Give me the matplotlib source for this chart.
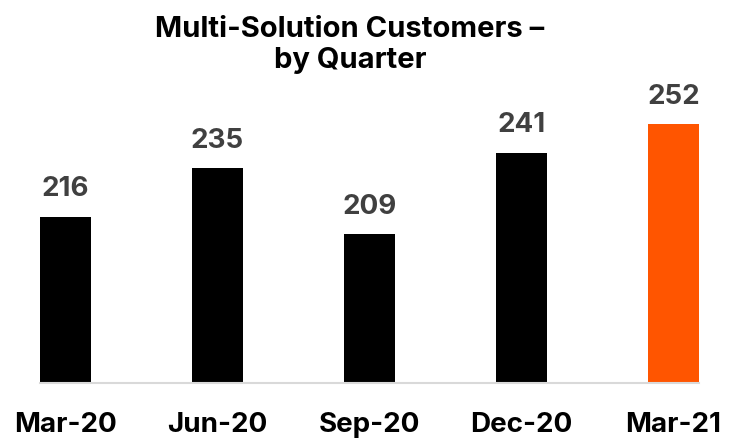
"""
Multi-Solution Customers by quarter bar chart
"""

import matplotlib.pyplot as plt

plt.rcParams["font.family"] = ["Inter", "DejaVu Sans"]

# 資料
quarters = ["Mar-20", "Jun-20", "Sep-20", "Dec-20", "Mar-21"]
customers = [216, 235, 209, 241, 252]
bar_colors = ["#000000", "#000000", "#000000", "#000000", "#FF5500"]

bar_width = 0.336

fig = plt.figure(figsize=(7.36, 4.39), dpi=100)
ax = fig.add_axes([40 / 736, 1 - 384 / 439, 659 / 736, 0.70])

bars = ax.bar(range(len(quarters)), customers, width=bar_width, color=bar_colors)

ax.set_xlim(-bar_width / 2, len(quarters) - 1 + bar_width / 2)
ax.set_ylim(151, 271)

# 數值標籤
for bar, value in zip(bars, customers):
    ax.annotate(
        f"{value}",
        (bar.get_x() + bar.get_width() / 2, bar.get_height()),
        xytext=(0, 11),
        textcoords="offset points",
        ha="center",
        va="bottom",
        fontsize=20,
        fontweight="bold",
        color="#404040",
    )

ax.set_xticks(range(len(quarters)))
ax.set_xticklabels(quarters, fontsize=20, fontweight="bold", color="#000000")
ax.tick_params(axis="x", length=0, pad=20)
ax.set_yticks([])

for side in ["top", "right", "left"]:
    ax.spines[side].set_visible(False)
ax.spines["bottom"].set_color("#D9D9D9")
ax.spines["bottom"].set_linewidth(1.5)

fig.text(
    350 / 736,
    1 - 45 / 439,
    "Multi-Solution Customers –\nby Quarter",
    ha="center",
    va="center",
    fontsize=21,
    fontweight="bold",
    color="#000000",
    linespacing=1.2,
)

plt.savefig("out.png", dpi=100)
plt.close()
